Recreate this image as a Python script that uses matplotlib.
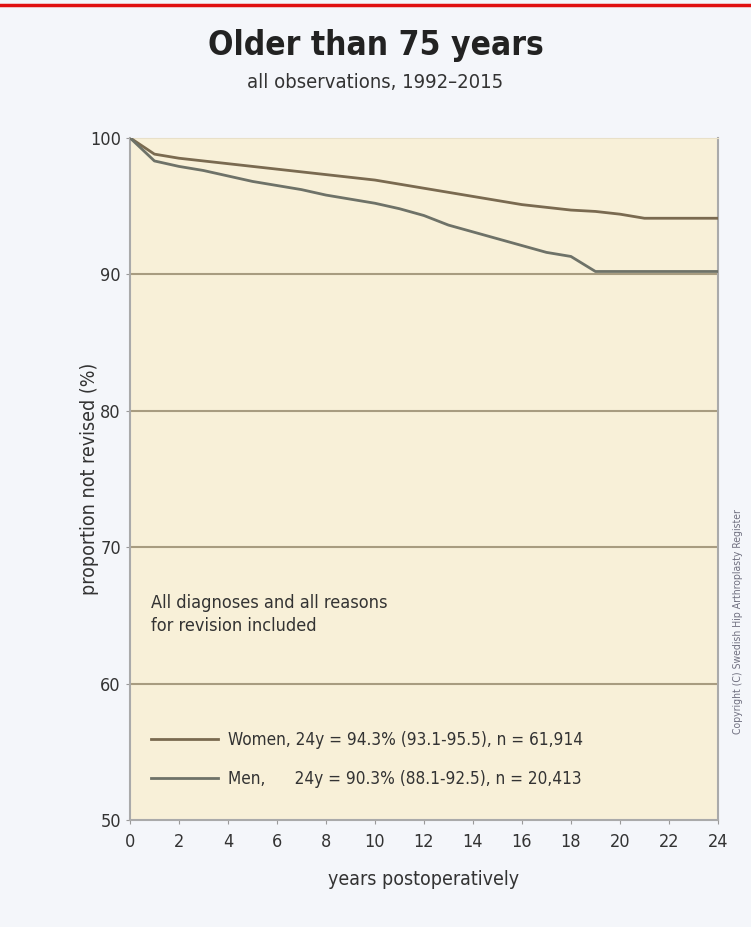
import matplotlib.pyplot as plt

# survival (% not revised), one value per year
years = list(range(0, 25))
women = [100, 98.8, 98.5, 98.3, 98.1, 97.9, 97.7, 97.5, 97.3, 97.1, 96.9, 96.6, 96.3,
         96.0, 95.7, 95.4, 95.1, 94.9, 94.7, 94.6, 94.4, 94.1, 94.1, 94.1, 94.1]
men = [100, 98.3, 97.9, 97.6, 97.2, 96.8, 96.5, 96.2, 95.8, 95.5, 95.2, 94.8, 94.3,
       93.6, 93.1, 92.6, 92.1, 91.6, 91.3, 90.2, 90.2, 90.2, 90.2, 90.2, 90.2]
yticks = [50, 60, 70, 80, 90, 100]
xticks = list(range(0, 25, 2))
labels = ['Women, 24y = 94.3% (93.1-95.5), n = 61,914',
          'Men,      24y = 90.3% (88.1-92.5), n = 20,413']

plt.rcParams['font.family'] = ['DejaVu Sans']
plt.rcParams['font.stretch'] = 'condensed'

fig = plt.figure(figsize=(7.51, 9.27), dpi=100, facecolor='#f4f6fa')
ax = fig.add_axes([0.173, 0.1154, 0.783, 0.736], facecolor='#f8f0d8')

for y in yticks[1:-1]:
	ax.axhline(y, color='#a89c80', lw=1.5, zorder=1)

ax.plot(years, women, color='#7a6a50', lw=2, label=labels[0], zorder=3)
ax.plot(years, men, color='#6e7268', lw=2, label=labels[1], zorder=3)

ax.set_xlim(0, 24)
ax.set_ylim(50, 100)
ax.set_xticks(xticks)
ax.set_yticks(yticks)
ax.tick_params(labelsize=13, length=3, color='#999999', labelcolor='#333333')
ax.tick_params(axis='x', pad=6)
for side in ['left', 'bottom', 'right']:
	ax.spines[side].set_color('#aaaaaa')
	ax.spines[side].set_linewidth(1.5)
ax.spines['top'].set_color('#e8e0c8')

ax.set_xlabel('years postoperatively', fontsize=14, color='#333333', labelpad=14)
ax.set_ylabel('proportion not revised (%)', fontsize=14, color='#333333')
ax.yaxis.set_label_coords(-0.052, 0.5)

fig.text(0.5, 0.951, 'Older than 75 years', ha='center', va='center',
	fontsize=24, fontweight='bold', color='#222222')
fig.text(0.5, 0.911, 'all observations, 1992\u20132015', ha='center', va='center',
	fontsize=14.5, color='#333333')

ax.text(0.035, 0.332, 'All diagnoses and all reasons\nfor revision included',
	transform=ax.transAxes, fontsize=13, color='#333333', va='top', linespacing=1.4)

ax.legend(loc='lower left', bbox_to_anchor=(0.01, 0.025), frameon=False,
	fontsize=12.3, handlelength=3.9, handletextpad=0.6, labelspacing=1.2, labelcolor='#333333')

fig.text(0.983, 0.33, 'Copyright (C) Swedish Hip Arthroplasty Register', rotation=90,
	ha='center', va='center', fontsize=7.5, color='#707080')

fig.add_artist(plt.Line2D([0, 1], [0.995, 0.995], color='#e01010', lw=2.5))

fig.savefig('out.png', dpi=100, facecolor=fig.get_facecolor())
